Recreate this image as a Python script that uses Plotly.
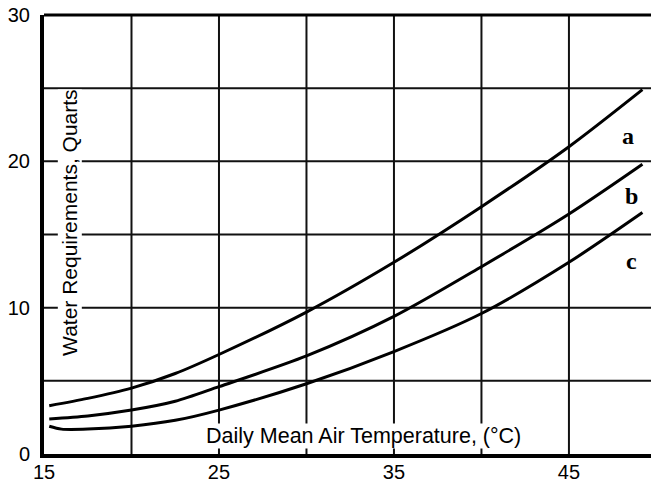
import plotly.graph_objects as go

temp_a = [15.3, 17.5, 20, 22.5, 25, 30, 35, 40, 45, 49.2]
water_a = [3.3, 3.8, 4.5, 5.5, 6.8, 9.7, 13.1, 16.9, 21.0, 24.9]
temp_b = [15.3, 17.5, 20, 22.5, 25, 30, 35, 40, 45, 49.2]
water_b = [2.4, 2.6, 3.0, 3.6, 4.6, 6.7, 9.4, 12.8, 16.4, 19.8]
temp_c = [15.3, 16, 17.5, 20, 22.5, 25, 30, 35, 40, 45, 49.2]
water_c = [1.9, 1.7, 1.7, 1.9, 2.3, 3.0, 4.8, 7.0, 9.6, 13.1, 16.5]
curve_labels = ["a", "b", "c"]
label_pos = [(48.35, 21.7), (48.6, 17.6), (48.55, 13.2)]
x_ticks = [15, 25, 35, 45]
y_ticks = [0, 10, 20, 30]

fig = go.Figure()
for xs, ys in [(temp_a, water_a), (temp_b, water_b), (temp_c, water_c)]:
    fig.add_trace(go.Scatter(x=xs, y=ys, mode="lines",
                             line=dict(color="black", width=3, shape="spline", smoothing=0.8),
                             showlegend=False, hoverinfo="skip"))

ann = []
for lab, (lx, ly) in zip(curve_labels, label_pos):
    ann.append(dict(x=lx, y=ly, text="<b>" + lab + "</b>", showarrow=False,
                    font=dict(family="Liberation Serif", size=24, color="black"),
                    xanchor="center", yanchor="middle"))
ann.append(dict(x=0.043, xref="paper", y=15.8, text="Water Requirements, Quarts",
                textangle=-90, showarrow=False, bgcolor="white",
                font=dict(family="Liberation Sans", size=21, color="black"),
                xanchor="center", yanchor="middle", borderpad=0))
ann.append(dict(x=0.527, xref="paper", y=1.2, text="Daily Mean Air Temperature, (°C)",
                showarrow=False, bgcolor="white",
                font=dict(family="Liberation Sans", size=21.5, color="black"),
                xanchor="center", yanchor="middle", borderpad=0))

fig.update_layout(
    width=651, height=482,
    margin=dict(l=44, r=0, t=15, b=28),
    paper_bgcolor="white", plot_bgcolor="white",
    annotations=ann,
    font=dict(family="Liberation Sans", size=20, color="black"),
    xaxis=dict(range=[15, 49.69], tickvals=x_ticks, ticktext=[str(v) for v in x_ticks],
               showgrid=False, zeroline=False, showline=True, linecolor="black", linewidth=4,
               ticks="", ticklabelstandoff=-3, tickfont=dict(size=20),
               automargin=False),
    yaxis=dict(range=[0, 30], tickvals=y_ticks, ticktext=[str(v) for v in y_ticks],
               showgrid=False, zeroline=False, showline=True, linecolor="black", linewidth=4,
               ticks="outside", ticklen=6, tickcolor="white", tickfont=dict(size=20),
               automargin=False),
    shapes=(
        [dict(type="line", xref="x", yref="paper", x0=v, x1=v, y0=0, y1=1,
              line=dict(color="#111", width=2), layer="below") for v in [20, 25, 30, 35, 40, 45]]
        + [dict(type="line", xref="paper", yref="y", x0=0, x1=1, y0=v, y1=v,
                line=dict(color="#111", width=2), layer="below") for v in [5, 10, 15, 20, 25]]
        + [dict(type="line", xref="paper", yref="paper", x0=0, x1=1, y0=1, y1=1,
                line=dict(color="black", width=3))]
    ),
)
fig.write_html("out.html", config={"displayModeBar": False},
               post_script="document.body.style.margin='0px';document.body.style.overflow='hidden';")
